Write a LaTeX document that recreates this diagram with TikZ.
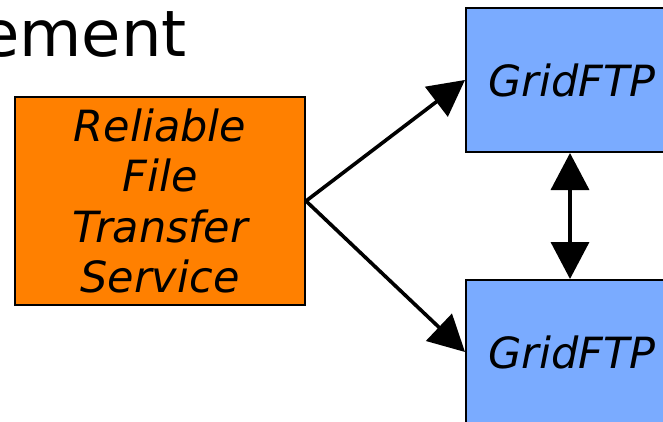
\documentclass[tikz,border=0pt]{standalone}
\usepackage{fontspec}
\setmainfont{DejaVu Sans}
\usetikzlibrary{arrows.meta}
\definecolor{rftorange}{RGB}{255,128,0}
\definecolor{ftpblue}{RGB}{122,171,255}
\tikzset{
	svcbox/.style={draw=black,line width=2pt,inner sep=0pt,align=center,
		font=\fontsize{43}{50.5}\selectfont\itshape},
	bigarrow/.style={line width=3.6pt,-{Triangle[length=36pt,width=37pt]}},
	botharrow/.style={line width=3.6pt,{Triangle[length=37pt,width=38pt]}-{Triangle[length=37pt,width=38pt]}}
}
\begin{document}
\begin{tikzpicture}[x=1pt,y=-1pt]
	
	\useasboundingbox (0,0) rectangle (663,422);
	\clip (0,0) rectangle (663,422);
	
	\node[anchor=base east,inner sep=0pt,font=\fontsize{64}{64}\selectfont] (title) at(187,57) {ement};
	
	\node[svcbox,fill=rftorange,minimum width=290pt,minimum height=208pt] (rft) at(160,201)
		{Reliable\\File\\Transfer\\Service};
	
	\node[svcbox,fill=ftpblue,minimum width=212pt,minimum height=144pt] (ftpa) at(572,80) {GridFTP};
	\node[svcbox,fill=ftpblue,minimum width=212pt,minimum height=144pt] (ftpb) at(572,352) {GridFTP};
	
	\draw[bigarrow] (rft.east) -- (ftpa.west);
	\draw[bigarrow] (rft.east) -- (ftpb.west);
	\draw[botharrow] (ftpa.south -| 570,0) -- (ftpb.north -| 570,0);
	
\end{tikzpicture}
\end{document}
